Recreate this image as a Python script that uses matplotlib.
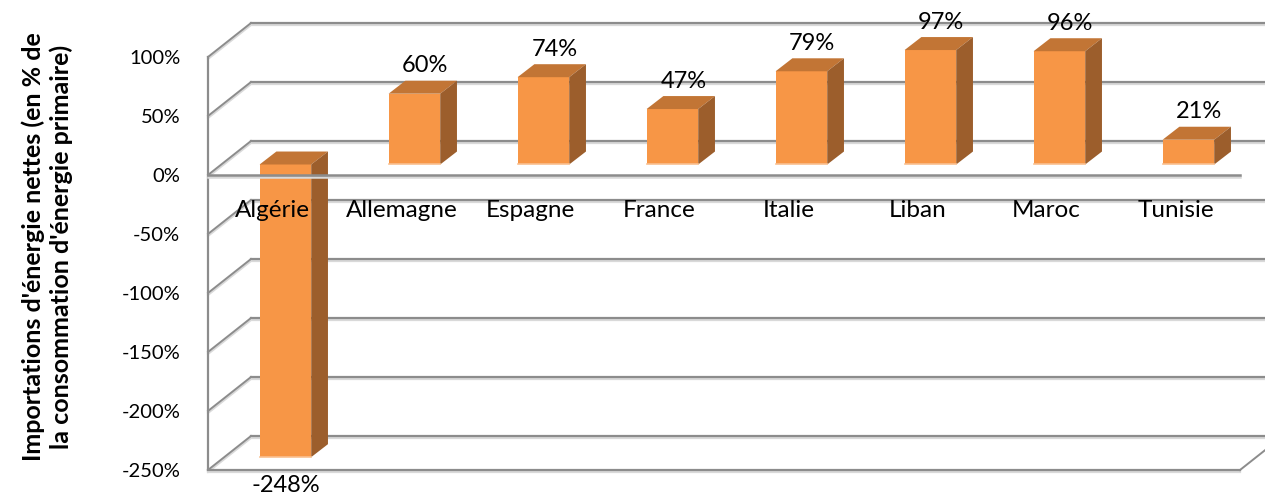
import matplotlib
matplotlib.use("Agg")
import matplotlib.pyplot as plt
import matplotlib.patheffects as pe
from matplotlib.patches import Polygon, Rectangle

plt.rcParams['font.family'] = ['Lato', 'DejaVu Sans']

# data
countries = ["Algérie", "Allemagne", "Espagne", "France", "Italie", "Liban", "Maroc", "Tunisie"]
values = [-248, 60, 74, 47, 79, 97, 96, 21]
yticks = [100, 50, 0, -50, -100, -150, -200, -250]
ylabel = "Importations d'énergie nettes (en % de\nla consommation d'énergie primaire)"

# fake 3d geometry (data units)
WALL_DX, WALL_DY = 0.333, 28.8
FRONT_DX, FRONT_DY = 0.10, 8.9
BAR_W = 0.40
DEPTH_DX, DEPTH_DY = 0.13, 11.0

C_FRONT = '#F79646'
C_TOP = '#C27535'
C_SIDE = '#9C5E2C'
C_GRID = '#8C8C8C'
shadow = [pe.SimpleLineShadow(offset=(0, -1.5), shadow_color='#D9D9D9', alpha=1, rho=1), pe.Normal()]

fig = plt.figure(figsize=(12.65, 4.96), dpi=100)
ax = fig.add_axes([208 / 1265, 26 / 496, 1032 / 1265, 413 / 496])
ax.set_xlim(0, len(countries))
ax.set_ylim(-250, 100)
for s in ax.spines.values():
    s.set_visible(False)
ax.set_xticks([])
ax.set_yticks(yticks)
ax.set_yticklabels([f"{t}%" for t in yticks])
ax.tick_params(axis='y', length=0, pad=20, labelsize=14.5)

n = len(countries)
# back wall gridlines and side wall diagonals
for t in yticks:
    ax.plot([WALL_DX, n + WALL_DX], [t + WALL_DY] * 2, color=C_GRID, lw=1.6,
            clip_on=False, zorder=1, path_effects=shadow)
    ax.plot([0, WALL_DX], [t, t + WALL_DY], color=C_GRID, lw=1.4,
            clip_on=False, zorder=1, path_effects=shadow)
ax.plot([0, 0], [-250, 100], color=C_GRID, lw=1.6, clip_on=False, zorder=1)
ax.plot([0, n], [-250, -250], color=C_GRID, lw=1.6, clip_on=False, zorder=1, path_effects=shadow)
ax.plot([n, n + WALL_DX], [-250, -250 + WALL_DY], color=C_GRID, lw=1.4, clip_on=False, zorder=1)

# bars
for i, v in enumerate(values):
    x0 = i + 0.5 - BAR_W / 2 + FRONT_DX
    base = FRONT_DY
    top = v + FRONT_DY
    lo, hi = min(base, top), max(base, top)
    ax.add_patch(Rectangle((x0, lo), BAR_W, hi - lo, facecolor=C_FRONT,
                           edgecolor='none', zorder=3, clip_on=False))
    ax.plot([x0, x0 + BAR_W], [lo, lo], color='#FAC090', lw=1.2, zorder=3.1, clip_on=False)
    ax.add_patch(Polygon([(x0, hi), (x0 + BAR_W, hi), (x0 + BAR_W + DEPTH_DX, hi + DEPTH_DY),
                          (x0 + DEPTH_DX, hi + DEPTH_DY)], closed=True, facecolor=C_TOP,
                         edgecolor='none', zorder=3, clip_on=False))
    ax.add_patch(Polygon([(x0 + BAR_W, lo), (x0 + BAR_W, hi), (x0 + BAR_W + DEPTH_DX, hi + DEPTH_DY),
                          (x0 + BAR_W + DEPTH_DX, lo + DEPTH_DY)], closed=True, facecolor=C_SIDE,
                         edgecolor='none', zorder=3, clip_on=False))
    if v >= 0:
        ax.text(x0 + BAR_W / 2 + DEPTH_DX / 2 + 0.02, hi + DEPTH_DY + 7, f"{v}%",
                ha='center', va='baseline', fontsize=17, zorder=5)
    else:
        ax.text(x0 + BAR_W / 2, lo - 15, f"{v}%", ha='center', va='top', fontsize=17, zorder=5)

# floor front edge
ax.plot([0, n], [0, 0], color=C_GRID, lw=1.8, clip_on=False, zorder=4, path_effects=shadow)

# category labels
for i, c in enumerate(countries):
    ax.text(i + 0.5, -30, c, ha='center', va='center', fontsize=17.5, zorder=5)

fig.text(47 / 1265, 1 - 247 / 496, ylabel, rotation=90, ha='center', va='center',
         multialignment='center', fontsize=18, fontweight='bold', linespacing=1.25)

fig.savefig("out.png", dpi=100)
